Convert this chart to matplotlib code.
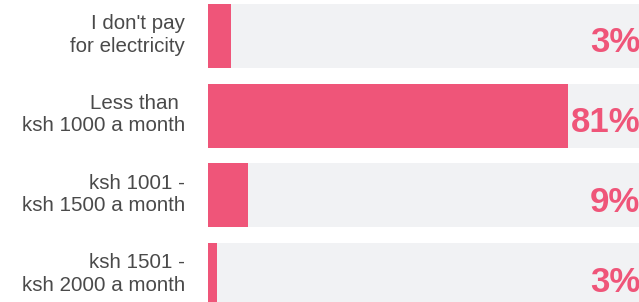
import matplotlib
matplotlib.use("Agg")
import matplotlib.pyplot as plt

categories = ["I don't pay\nfor electricity", "Less than \nksh 1000 a month",
              "ksh 1001 -\nksh 1500 a month", "ksh 1501 -\nksh 2000 a month"]
bar_values = [5.2, 81, 9, 2]
value_labels = ["3%", "81%", "9%", "3%"]

W, H, DPI = 639, 302, 100
fig = plt.figure(figsize=(W / DPI, H / DPI), dpi=DPI)
fig.patch.set_facecolor("white")

x0, x100 = 208, 652
row0, step = 36, 79.67
ax = fig.add_axes([x0 / W, 0, (x100 - x0) / W, 1])
ax.set_xlim(0, 100)
ax.set_ylim((H - row0) / step, -row0 / step)
ax.axis("off")

pink = "#EF5579"
grey = "#F1F2F4"
h = 64 / step
ys = list(range(len(categories)))
ax.barh(ys, [100] * len(ys), height=h, color=grey, left=0)
ax.barh(ys, bar_values, height=h, color=pink, left=0)

for y, lab in zip(ys, value_labels):
    ax.text((640 - x0) / (x100 - x0) * 100, y + 16.5 / step, lab, ha="right", va="baseline",
            fontsize=25, fontweight="bold", color=pink, family="Liberation Sans")

for y, cat in zip(ys, categories):
    fig.text(185 / W, 1 - (row0 + y * step - 1) / H, cat, ha="right", va="center",
             fontsize=14.8, color="#4a4a4a", family="Liberation Sans", linespacing=1.22,
             multialignment="right")

fig.savefig("out.png", dpi=DPI, facecolor="white")
